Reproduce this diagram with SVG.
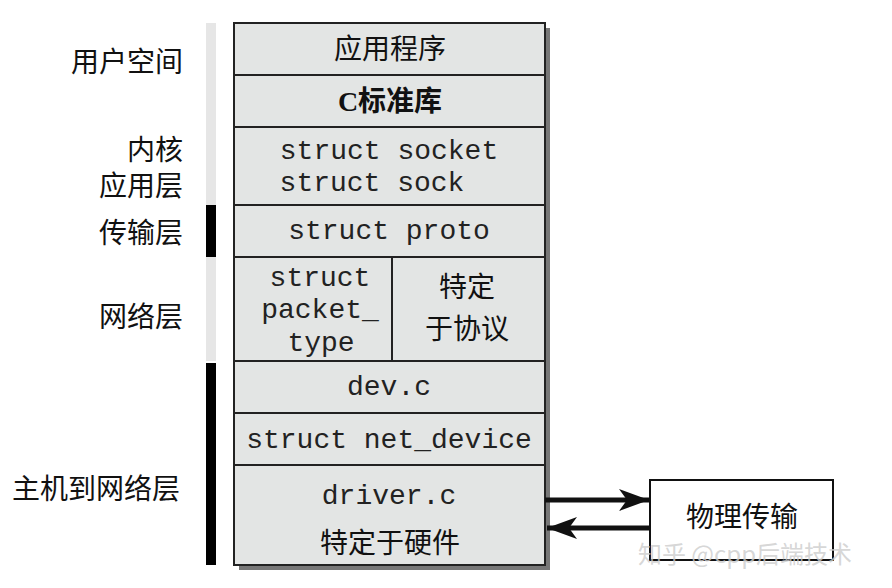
<svg xmlns="http://www.w3.org/2000/svg" width="892" height="588" viewBox="0 0 892 588">
<style>
.cell{fill:#e3e5e4;stroke:#222;stroke-width:2}
.m{font-family:"Liberation Mono",monospace;font-size:28px;fill:#222;text-anchor:middle}
.c{font-family:"Liberation Serif","Noto Sans CJK SC",serif;font-size:28px;fill:#111;text-anchor:middle}
.l{font-family:"Liberation Serif","Noto Sans CJK SC",serif;font-size:28px;fill:#111;text-anchor:end}
</style>
<defs>
<marker id="ah" viewBox="0 0 30 22" refX="30" refY="11" markerWidth="30" markerHeight="22" orient="auto" markerUnits="userSpaceOnUse"><path d="M0,0 L30,11 L0,22 L8,11z" fill="#111"/></marker></defs>
<rect width="892" height="588" fill="#fff"/>
<g id="bars">
<rect x="206" y="23" width="10" height="182" fill="#e6e6e6"/>
<rect x="206" y="205" width="10" height="52" fill="#000"/>
<rect x="206" y="257" width="10" height="104" fill="#e6e6e6"/>
<rect x="206" y="363" width="10" height="202" fill="#000"/>
</g>
<g id="labels">
<text class="l" x="183" y="72">用户空间</text>
<text class="l" x="183" y="160">内核</text>
<text class="l" x="183" y="196">应用层</text>
<text class="l" x="183" y="243">传输层</text>
<text class="l" x="183" y="327">网络层</text>
<text class="l" x="180" y="499">主机到网络层</text>
</g>
<rect x="239" y="28" width="311" height="542" fill="#777"/>
<g id="app"><rect class="cell" x="234" y="23" width="311" height="52"/><text class="c" x="390" y="59">应用程序</text></g>
<g id="libc"><rect class="cell" x="234" y="75" width="311" height="52"/><text class="c" x="390" y="111" font-weight="bold">C标准库</text></g>
<g id="socket"><rect class="cell" x="234" y="127" width="311" height="78"/><text class="m" x="389" y="159">struct socket</text><text class="m" x="372" y="191">struct sock</text></g>
<g id="proto"><rect class="cell" x="234" y="205" width="311" height="52"/><text class="m" x="389" y="239">struct proto</text></g>
<g id="ptype"><rect class="cell" x="234" y="257" width="158" height="104"/><text class="m" x="320" y="286">struct</text><text class="m" x="320" y="318">packet_</text><text class="m" x="321" y="351">type</text></g>
<g id="protospec"><rect class="cell" x="392" y="257" width="153" height="104"/><text class="c" x="467" y="297">特定</text><text class="c" x="467" y="339">于协议</text></g>
<g id="dev"><rect class="cell" x="234" y="361" width="311" height="52"/><text class="m" x="389" y="395">dev.c</text></g>
<g id="netdev"><rect class="cell" x="234" y="413" width="311" height="52"/><text class="m" x="389" y="448">struct net_device</text></g>
<g id="driver"><rect class="cell" x="234" y="465" width="311" height="100"/><text class="m" x="389" y="504">driver.c</text><text class="c" x="390" y="553">特定于硬件</text></g>
<g id="phys"><rect x="650" y="480" width="183" height="80" fill="#fff" stroke="#111" stroke-width="2"/><text class="c" x="742" y="527">物理传输</text></g>
<g id="connectors">
<line x1="545" y1="500" x2="649" y2="500" stroke="#111" stroke-width="5" marker-end="url(#ah)"/>
<line x1="650" y1="528" x2="547" y2="528" stroke="#111" stroke-width="5" marker-end="url(#ah)"/>
</g>
<text x="745" y="563" font-family="'Noto Sans CJK SC',sans-serif" font-size="24" fill="#ccc" fill-opacity="0.8" text-anchor="middle">知乎 @cpp后端技术</text>
</svg>
